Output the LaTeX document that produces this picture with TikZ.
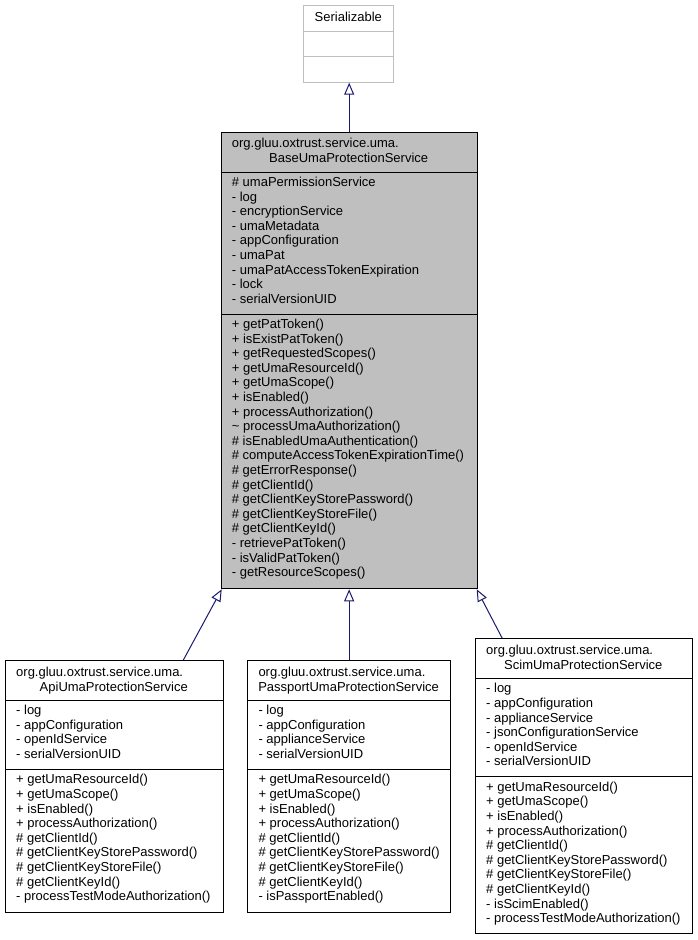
\documentclass[tikz,border=0pt]{standalone}
\usepackage{fontspec}
\setmainfont{Liberation Sans}
\usetikzlibrary{arrows.meta}
\definecolor{edgeblue}{HTML}{191970}
\definecolor{basegray}{HTML}{BFBFBF}
\tikzset{classbox/.style = {draw, fill=white, anchor=north west, inner sep=0, line width=1pt}}
\tikzset{member/.style = {anchor=base west, inner sep=0}}
\tikzset{cname/.style = {anchor=base, inner sep=0}}
\tikzset{inherit/.style = {edgeblue, line width=1pt, -{Triangle[open, length=12pt, width=10pt]}}}
% one text line per member, 14.6pt apart
\newcommand{\members}[4]{\foreach \m [count=\i from 0] in {#4} {\node[member] (#1\i) at (#2,#3+\i*14.6) {\m};}}

\begin{document}
\begin{tikzpicture}[x=1pt, y=-1pt, font=\fontsize{13}{14.6}\selectfont]
    \useasboundingbox (0,0) rectangle (697,940);
    % classes
    \node[classbox, draw=basegray, minimum width=90pt, minimum height=76.4pt] (serializable) at (303.3,5.3) {};
    \node[classbox, fill=basegray, minimum width=256pt, minimum height=456.6pt] (base) at (220.7,131.7) {};
    \node[classbox, minimum width=217.7pt, minimum height=251.7pt] (api) at (5,660) {};
    \node[classbox, minimum width=202.7pt, minimum height=251.7pt] (passport) at (247.3,660) {};
    \node[classbox, minimum width=216.7pt, minimum height=295pt] (scim) at (475,638.3) {};
    % dividers
    \draw[basegray, line width=1pt] (serializable.west |- 0,31.7) -- (serializable.east |- 0,31.7);
    \draw[basegray, line width=1pt] (serializable.west |- 0,56.7) -- (serializable.east |- 0,56.7);
    \draw[line width=1pt] (base.west |- 0,172) -- (base.east |- 0,172);
    \draw[line width=1pt] (base.west |- 0,314) -- (base.east |- 0,314);
    \draw[line width=1pt] (api.west |- 0,700) -- (api.east |- 0,700);
    \draw[line width=1pt] (api.west |- 0,769.3) -- (api.east |- 0,769.3);
    \draw[line width=1pt] (passport.west |- 0,700) -- (passport.east |- 0,700);
    \draw[line width=1pt] (passport.west |- 0,769.3) -- (passport.east |- 0,769.3);
    \draw[line width=1pt] (scim.west |- 0,678.3) -- (scim.east |- 0,678.3);
    \draw[line width=1pt] (scim.west |- 0,776.7) -- (scim.east |- 0,776.7);
    % names
    \node[cname] (ser-name) at (348.3,21.7) {Serializable};
    \node[member] (base-pkg) at (231.7,147.5) {org.gluu.oxtrust.service.uma.};
    \node[cname] (base-name) at (348.7,162) {BaseUmaProtectionService};
    \node[member] (api-pkg) at (16,676.5) {org.gluu.oxtrust.service.uma.};
    \node[cname] (api-name) at (113.8,691) {ApiUmaProtectionService};
    \node[member] (passport-pkg) at (258.3,676.5) {org.gluu.oxtrust.service.uma.};
    \node[cname] (passport-name) at (348.6,691) {PassportUmaProtectionService};
    \node[member] (scim-pkg) at (486,654.8) {org.gluu.oxtrust.service.uma.};
    \node[cname] (scim-name) at (583.3,669.3) {ScimUmaProtectionService};
    % attributes and operations
    \members{base-a}{231.7}{186.5}{\# umaPermissionService, - log, - encryptionService, - umaMetadata, - appConfiguration, - umaPat, - umaPatAccessTokenExpiration, - lock, - serialVersionUID}
    \members{base-m}{231.7}{328.5}{+ getPatToken(), + isExistPatToken(), + getRequestedScopes(), + getUmaResourceId(), + getUmaScope(), + isEnabled(), + processAuthorization(), \textasciitilde{} processUmaAuthorization(), \# isEnabledUmaAuthentication(), \# computeAccessTokenExpirationTime(), \# getErrorResponse(), \# getClientId(), \# getClientKeyStorePassword(), \# getClientKeyStoreFile(), \# getClientKeyId(), - retrievePatToken(), - isValidPatToken(), - getResourceScopes()}
    \members{api-a}{16}{714.5}{- log, - appConfiguration, - openIdService, - serialVersionUID}
    \members{api-m}{16}{783.8}{+ getUmaResourceId(), + getUmaScope(), + isEnabled(), + processAuthorization(), \# getClientId(), \# getClientKeyStorePassword(), \# getClientKeyStoreFile(), \# getClientKeyId(), - processTestModeAuthorization()}
    \members{passport-a}{258.3}{714.5}{- log, - appConfiguration, - applianceService, - serialVersionUID}
    \members{passport-m}{258.3}{783.8}{+ getUmaResourceId(), + getUmaScope(), + isEnabled(), + processAuthorization(), \# getClientId(), \# getClientKeyStorePassword(), \# getClientKeyStoreFile(), \# getClientKeyId(), - isPassportEnabled()}
    \members{scim-a}{486}{692.8}{- log, - appConfiguration, - applianceService, - jsonConfigurationService, - openIdService, - serialVersionUID}
    \members{scim-m}{486}{791.2}{+ getUmaResourceId(), + getUmaScope(), + isEnabled(), + processAuthorization(), \# getClientId(), \# getClientKeyStorePassword(), \# getClientKeyStoreFile(), \# getClientKeyId(), - isScimEnabled(), - processTestModeAuthorization()}
    % inheritance
    \draw[inherit] (base.north) -- (base.north |- serializable.south);
    \draw[inherit] ([xshift=69pt]api.north) -- ([xshift=1pt]base.south west);
    \draw[inherit] (passport.north) -- (passport.north |- base.south);
    \draw[inherit] ([xshift=-81.6pt]scim.north) -- ([xshift=-1pt]base.south east);
\end{tikzpicture}
\end{document}
